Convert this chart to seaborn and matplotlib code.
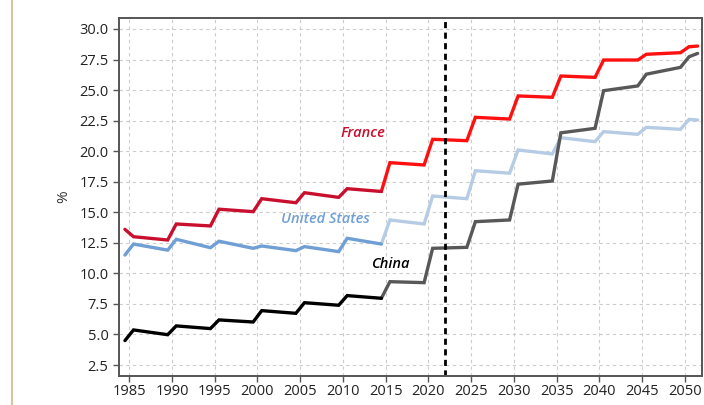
import matplotlib
matplotlib.use("Agg")
import matplotlib.pyplot as plt
from matplotlib.lines import Line2D
import seaborn as sns
import pandas as pd

# ---- data ----
years = [1984.5, 1985.5, 1989.5, 1990.5, 1994.5, 1995.5, 1999.5, 2000.5,
         2004.5, 2005.5, 2009.5, 2010.5, 2014.5, 2015.5, 2019.5, 2020.5,
         2024.5, 2025.5, 2029.5, 2030.5, 2034.5, 2035.5, 2039.5, 2040.5,
         2044.5, 2045.5, 2049.5, 2050.5, 2051.5]
france = [13.6, 13.0, 12.73, 14.04, 13.88, 15.25, 15.05, 16.11, 15.78, 16.6,
          16.22, 16.93, 16.7, 19.06, 18.87, 20.97, 20.86, 22.77, 22.63, 24.52,
          24.41, 26.15, 26.04, 27.46, 27.46, 27.93, 28.06, 28.55, 28.6]
united_states = [11.5, 12.4, 11.9, 12.79, 12.1, 12.63, 12.05, 12.24, 11.86,
                 12.19, 11.78, 12.87, 12.4, 14.37, 14.04, 16.33, 16.11, 18.4,
                 18.2, 20.1, 19.77, 21.1, 20.78, 21.6, 21.38, 21.95, 21.79,
                 22.6, 22.55]
china = [4.5, 5.37, 4.98, 5.7, 5.48, 6.19, 6.02, 6.95, 6.73, 7.6, 7.39, 8.18,
         7.96, 9.32, 9.24, 12.05, 12.13, 14.23, 14.37, 17.3, 17.56, 21.5,
         21.87, 24.95, 25.34, 26.3, 26.86, 27.73, 28.0]
last_observed_year = 2014.5
reference_year = 2022
labels = ["France", "United States", "China"]
x_ticks = list(range(1985, 2051, 5))
y_ticks = [2.5, 5.0, 7.5, 10.0, 12.5, 15.0, 17.5, 20.0, 22.5, 25.0, 27.5, 30.0]

# ---- style ----
sns.set_style("ticks")
plt.rcParams["font.family"] = ["Open Sans", "DejaVu Sans"]

hist_colors = {"France": "#c8102e", "United States": "#6f9fd4", "China": "#000000"}
proj_colors = {"France": "#ff1010", "United States": "#b6cce4", "China": "#585858"}

df = pd.DataFrame({"year": years, "France": france,
                   "United States": united_states, "China": china})
long = df.melt(id_vars="year", var_name="country", value_name="pct")
proj = long[long["year"] >= last_observed_year]
hist = long[long["year"] <= last_observed_year]

fig = plt.figure(figsize=(7.04, 4.05), dpi=100)
ax = fig.add_axes([0.169, 0.0716, 0.828, 0.884])

ax.grid(True, color="#cccccc", linestyle=(0, (3, 3)), linewidth=0.8)
ax.set_axisbelow(True)

sns.lineplot(data=proj, x="year", y="pct", hue="country", palette=proj_colors,
             hue_order=labels, linewidth=2.4, legend=False, ax=ax,
             solid_joinstyle="miter")
sns.lineplot(data=hist, x="year", y="pct", hue="country", palette=hist_colors,
             hue_order=labels, linewidth=2.4, legend=False, ax=ax,
             solid_joinstyle="miter")

ax.axvline(reference_year, color="black", linestyle=(0, (2.2, 1.6)), linewidth=2)

ax.set_xlim(1983.8, 2052)
ax.set_ylim(1.6, 30.9)
ax.set_xticks(x_ticks)
ax.set_yticks(y_ticks)
ax.set_xticklabels([str(t) for t in x_ticks])
ax.set_yticklabels([f"{t:.1f}" for t in y_ticks])
ax.tick_params(axis="both", labelsize=10.5, colors="#555555", labelcolor="#222222",
               length=4, width=1, direction="out")
ax.tick_params(axis="x", pad=2)
ax.set_xlabel("")
ax.set_ylabel("%", fontsize=11, color="#333333", labelpad=6)
for s in ax.spines.values():
    s.set_color("#555555")
    s.set_linewidth(1.4)

ax.text(2012.3, 21.5, "France", color="#c8102e", fontsize=10.5, style="italic",
        fontweight="semibold", ha="center", va="center")
ax.text(2008.0, 14.45, "United States", color="#6f9fd4", fontsize=10.5,
        style="italic", fontweight="semibold", ha="center", va="center")
ax.text(2015.6, 10.77, "China", color="#000000", fontsize=10.5, style="italic",
        fontweight="semibold", ha="center", va="center")

fig.add_artist(Line2D([12 / 704, 12 / 704], [0, 1], transform=fig.transFigure,
                      color="#d6c5a0", linewidth=1.5))

fig.savefig("out.png", dpi=100)
